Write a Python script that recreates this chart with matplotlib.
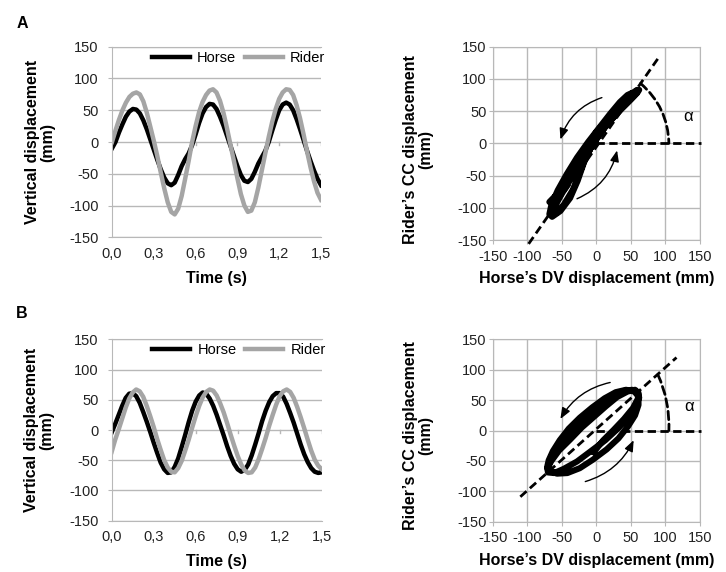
import numpy as np
import matplotlib
matplotlib.use("Agg")
import matplotlib.pyplot as plt
from matplotlib.patches import FancyArrowPatch

plt.rcParams['font.family'] = ['Liberation Sans', 'DejaVu Sans']
plt.rcParams['axes.unicode_minus'] = False

# Sample times (s), every 25 ms over 1.5 s
time_s = np.linspace(0.0, 1.5, 61)

# Trial A: vertical displacement (mm)
horse_a = [-10, 0, 15, 28, 40, 48, 52, 51, 45, 34,
           20, 4, -12, -28, -43, -56, -65, -68, -64, -52,
           -38, -27, -18, -5, 12, 30, 45, 55, 60, 59,
           52, 40, 26, 10, -6, -22, -38, -52, -61, -63,
           -58, -47, -34, -24, -14, 0, 18, 35, 50, 59,
           62, 59, 50, 36, 20, 3, -14, -30, -45, -58, -68]
rider_a = [0, 18, 35, 50, 62, 71, 76, 78, 75, 64,
           46, 24, 2, -22, -48, -73, -95, -110, -114, -105,
           -85, -58, -30, 0, 25, 47, 63, 74, 81, 83,
           78, 65, 46, 22, -4, -30, -57, -82, -100, -110,
           -108, -95, -72, -45, -18, 8, 32, 52, 68, 78,
           83, 82, 74, 58, 37, 12, -15, -40, -62, -80, -91]

# Trial B: vertical displacement (mm)
horse_b = [-4, 10, 25, 40, 53, 60, 61, 56, 45, 30,
           14, -3, -21, -38, -54, -65, -71, -70, -61, -47,
           -28, -8, 13, 32, 47, 57, 62, 60, 52, 40,
           25, 8, -9, -27, -43, -56, -65, -69, -66, -57,
           -42, -24, -5, 15, 32, 46, 56, 61, 61, 55,
           43, 28, 12, -6, -24, -40, -53, -63, -69, -71, -70]
rider_b = [-36, -16, 1, 19, 37, 52, 62, 67, 64, 55,
           40, 23, 5, -15, -33, -50, -62, -69, -70, -63,
           -51, -34, -16, 4, 23, 40, 54, 63, 67, 65,
           57, 44, 29, 11, -8, -26, -43, -57, -67, -71,
           -70, -62, -48, -31, -13, 7, 25, 42, 56, 64,
           67, 63, 53, 38, 21, 3, -16, -34, -49, -59, -65]

time_ticks = [0.0, 0.3, 0.6, 0.9, 1.2, 1.5]
time_labels = ['0,0', '0,3', '0,6', '0,9', '1,2', '1,5']
disp_ticks = [-150, -100, -50, 0, 50, 100, 150]

GRID = '#b8b8b8'
TICK_FS = 10.5
LABEL_FS = 11.5
DASH = (0, (3, 1.6))

W, H = 726, 572
fig = plt.figure(figsize=(W / 100, H / 100), dpi=100)


def px_axes(x0, x1, y0, y1):
    return fig.add_axes([x0 / W, 1 - y1 / H, (x1 - x0) / W, (y1 - y0) / H])


def time_panel(ax, horse, rider):
    ax.plot(time_s, horse, color='black', lw=3.2, label='Horse')
    ax.plot(time_s, rider, color='#a5a5a5', lw=3.2, label='Rider')
    ax.set_xlim(0, 1.5)
    ax.set_ylim(-150, 150)
    ax.set_xticks(time_ticks)
    ax.set_xticklabels(time_labels)
    ax.set_yticks(disp_ticks)
    ax.yaxis.grid(True, color=GRID, lw=1)
    ax.set_axisbelow(True)
    for side in ('left', 'bottom', 'top'):
        ax.spines[side].set_color(GRID)
    ax.spines['right'].set_visible(False)
    ax.tick_params(axis='y', length=3, color=GRID, pad=6.5,
                   labelsize=TICK_FS, labelcolor='#222222')
    ax.tick_params(axis='x', length=0, pad=7, labelsize=TICK_FS,
                   labelcolor='#222222')
    # small tick marks on the zero line
    for t in time_ticks:
        ax.plot([t, t], [0, -5], color=GRID, lw=1, zorder=0.5)
    ax.set_xlabel('Time (s)', fontsize=LABEL_FS, fontweight='bold')
    ax.xaxis.label.set_va('center')
    ax.set_ylabel('Vertical displacement\n(mm)', fontsize=LABEL_FS,
                  fontweight='bold', multialignment='center',
                  linespacing=1.0)
    ax.yaxis.label.set_va('center')
    ax.legend(loc='center right', bbox_to_anchor=(1.02, 0.94), ncol=2,
              frameon=False, handlelength=2.6, handletextpad=0.5,
              columnspacing=0.6, borderpad=0, borderaxespad=0,
              fontsize=TICK_FS)


def loop_panel(ax, horse, rider, axis_line, arc_start, arc_rad, alpha_pos,
               arrows):
    ax.plot(horse, rider, color='black', lw=4.4, solid_joinstyle='round',
            solid_capstyle='round', zorder=3)
    ax.set_xlim(-150, 150)
    ax.set_ylim(-150, 150)
    ax.set_xticks(disp_ticks)
    ax.set_yticks(disp_ticks)
    ax.grid(True, color=GRID, lw=1)
    ax.set_axisbelow(True)
    for side in ax.spines:
        ax.spines[side].set_color(GRID)
    ax.tick_params(length=3, color=GRID, pad=1.5, labelsize=TICK_FS,
                   labelcolor='#222222')
    ax.tick_params(axis='x', pad=4)
    ax.set_xlabel('Horse\u2019s DV displacement (mm)', fontsize=LABEL_FS,
                  fontweight='bold')
    ax.xaxis.label.set_va('center')
    ax.set_ylabel('Rider\u2019s CC displacement\n(mm)', fontsize=LABEL_FS,
                  fontweight='bold', multialignment='center',
                  linespacing=1.0)
    ax.yaxis.label.set_va('center')

    # principal axis of the loop and the horizontal reference
    (xa, ya), (xb, yb) = axis_line
    ax.plot([xa, xb], [ya, yb], color='black', lw=2, linestyle=DASH,
            clip_on=False, zorder=4)
    ax.plot([0, 152], [0, 0], color='black', lw=2, linestyle=DASH,
            clip_on=False, zorder=4)
    arc = FancyArrowPatch(arc_start, (105, 0), arrowstyle='-',
                          connectionstyle=f'arc3,rad={arc_rad}', lw=2,
                          linestyle=DASH, color='black', shrinkA=0,
                          shrinkB=0, zorder=4)
    ax.add_patch(arc)
    ax.text(alpha_pos[0], alpha_pos[1], '\u03b1', fontsize=12,
            ha='center', va='center')
    for tail, head, rad in arrows:
        ax.add_patch(FancyArrowPatch(
            tail, head, arrowstyle='-|>,head_length=0.55,head_width=0.22',
            mutation_scale=12, lw=1, color='black',
            connectionstyle=f'arc3,rad={rad}', shrinkA=0, shrinkB=0,
            zorder=5))


ax_a1 = px_axes(112, 321, 46.7, 237.3)
time_panel(ax_a1, horse_a, rider_a)
ax_a1.xaxis.set_label_coords(0.5, -0.215)
ax_a1.yaxis.set_label_coords(-0.345, 0.5)

ax_a2 = px_axes(492.7, 700, 46.7, 240)
loop_panel(ax_a2, horse_a, rider_a,
           axis_line=((-98, -156), (92, 136)),
           arc_start=(64, 93), arc_rad=-0.22, alpha_pos=(133, 41),
           arrows=[((8, 71), (-52, 6), 0.25),
                   ((-28, -86), (30, -11), 0.25)])
ax_a2.xaxis.set_label_coords(0.5, -0.2)
ax_a2.yaxis.set_label_coords(-0.36, 0.47)

ax_b1 = px_axes(111.7, 321.7, 339.3, 520.7)
time_panel(ax_b1, horse_b, rider_b)
ax_b1.xaxis.set_label_coords(0.5, -0.225)
ax_b1.yaxis.set_label_coords(-0.345, 0.5)

ax_b2 = px_axes(492.7, 700, 339.3, 521.7)
loop_panel(ax_b2, horse_b, rider_b,
           axis_line=((-110, -109), (116, 120)),
           arc_start=(89, 92), arc_rad=-0.12, alpha_pos=(134, 40),
           arrows=[((20, 79), (-52, 19), 0.22),
                   ((-16, -84), (54, -16), 0.22)])
ax_b2.xaxis.set_label_coords(0.5, -0.215)
ax_b2.yaxis.set_label_coords(-0.36, 0.47)

fig.text(22 / W, 1 - 23 / H, 'A', fontsize=11.5, fontweight='bold',
         ha='center', va='center')
fig.text(22 / W, 1 - 313 / H, 'B', fontsize=11.5, fontweight='bold',
         ha='center', va='center')

fig.savefig('out.png', dpi=100)
